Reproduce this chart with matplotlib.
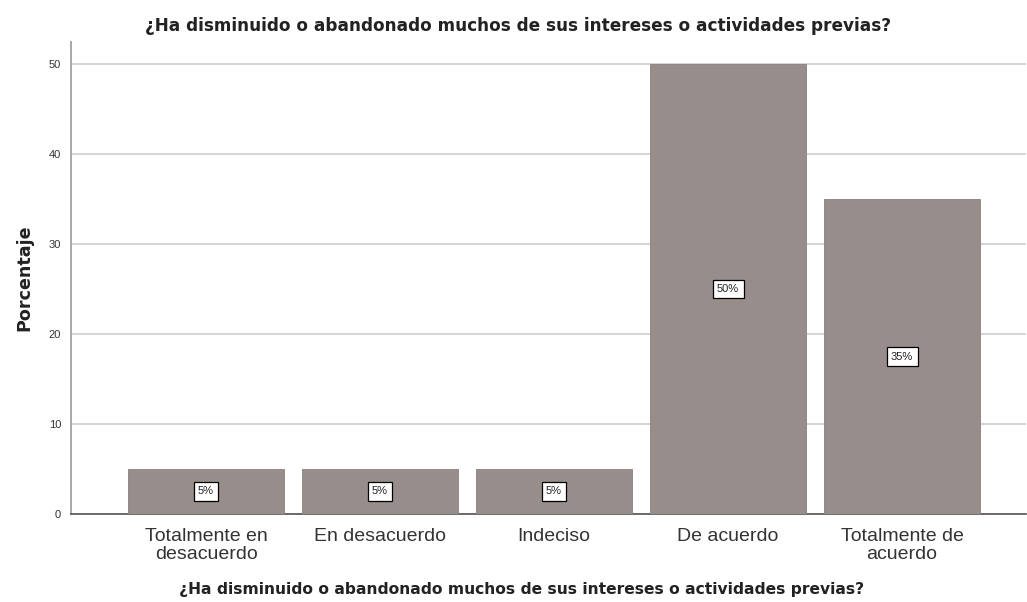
import matplotlib
matplotlib.use("Agg")
import matplotlib.pyplot as plt

categories = ["Totalmente en\ndesacuerdo", "En desacuerdo", "Indeciso", "De acuerdo", "Totalmente de\nacuerdo"]
percentages = [5, 5, 5, 50, 35]
y_ticks = [0, 10, 20, 30, 40, 50]

question = "¿Ha disminuido o abandonado muchos de sus intereses o actividades previas?"
bar_color = "#978d8b"

plt.rcParams["font.family"] = ["Liberation Sans", "DejaVu Sans"]
bold_font = ["DejaVu Sans"]

fig = plt.figure(figsize=(10.27, 6.02), dpi=100)
ax = fig.add_axes([0.0691, 0.1462, 0.9301, 0.7838])

x = list(range(len(categories)))
bars = ax.bar(x, percentages, width=0.898, color=bar_color, edgecolor="#8a807e",
              linewidth=0.6, zorder=3)

for xi, v in zip(x, percentages):
    ax.text(xi, v / 2, f"{v}%", ha="center", va="center", fontsize=8, color="#222222",
            zorder=4,
            bbox=dict(boxstyle="square,pad=0.4", facecolor="white", edgecolor="black",
                      linewidth=0.9))

ax.set_xlim(-0.776, 4.713)
ax.set_ylim(0, 52.44)
ax.set_yticks(y_ticks)
ax.set_yticklabels([str(t) for t in y_ticks], fontsize=8, color="#333333")
ax.set_xticks(x)
ax.set_xticklabels(categories, fontsize=14, color="#333333", linespacing=1.12)
ax.tick_params(axis="both", length=0)
ax.tick_params(axis="y", pad=7)
ax.tick_params(axis="x", pad=10)

ax.yaxis.grid(True, color="#d4d4d4", linewidth=1.4, zorder=0)
ax.set_axisbelow(True)

for side in ("top", "right"):
    ax.spines[side].set_visible(False)
ax.spines["left"].set_color("#a8a8a8")
ax.spines["left"].set_linewidth(1.4)
ax.spines["bottom"].set_color("#555555")
ax.spines["bottom"].set_linewidth(1.2)

ax.set_ylabel("Porcentaje", fontsize=12.6, fontweight="bold", color="#222222",
              family=bold_font)
ax.yaxis.set_label_coords(-0.039, 0.5)
ax.set_xlabel(question, fontsize=11.2, fontweight="bold", color="#222222",
              family=bold_font)
ax.xaxis.set_label_coords(0.472, -0.145)
fig.text(0.504, 0.957, question, ha="center", va="center", fontsize=12.2,
         fontweight="bold", color="#222222", family=bold_font)

fig.savefig("out.png", dpi=100, facecolor="white")
